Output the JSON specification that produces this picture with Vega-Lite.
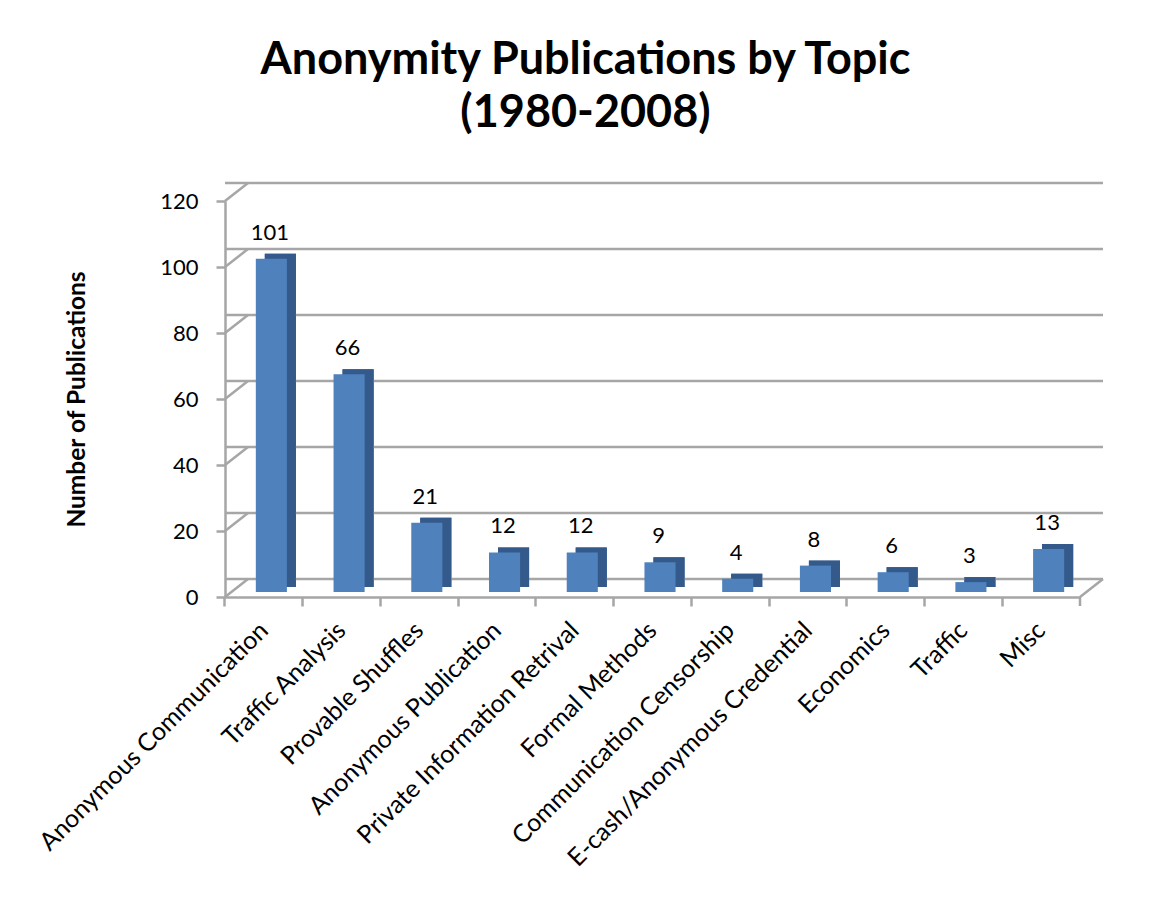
{
  "$schema": "https://vega.github.io/schema/vega-lite/v6.json",
  "autosize": {"type": "none"},
  "padding": {"left": 225, "top": 201, "right": 74, "bottom": 312},
  "width": 855,
  "height": 396,
  "background": "white",
  "config": {"view": {"stroke": null}, "font": "Lato"},
  "title": {
    "text": ["Anonymity Publications by Topic", "(1980-2008)"],
    "font": "Lato", "fontSize": 45, "fontWeight": "bold", "color": "black",
    "anchor": "middle", "dx": -67, "lineHeight": 53, "offset": 46
  },
  "datasets": {
    "pubs": [
      {"topic": "Anonymous Communication", "count": 101},
      {"topic": "Traffic Analysis", "count": 66},
      {"topic": "Provable Shuffles", "count": 21},
      {"topic": "Anonymous Publication", "count": 12},
      {"topic": "Private Information Retrival", "count": 12},
      {"topic": "Formal Methods", "count": 9},
      {"topic": "Communication Censorship", "count": 4},
      {"topic": "E-cash/Anonymous Credential", "count": 8},
      {"topic": "Economics", "count": 6},
      {"topic": "Traffic", "count": 3},
      {"topic": "Misc", "count": 13}
    ],
    "ticks": [{"v": 0}, {"v": 20}, {"v": 40}, {"v": 60}, {"v": 80}, {"v": 100}, {"v": 120}]
  },
  "layer": [
    {
      "data": {"name": "pubs"},
      "mark": {"type": "bar", "color": "#345a8c", "width": {"band": 0.4}, "xOffset": 16.5, "yOffset": -10},
      "encoding": {
        "x": {"field": "topic", "type": "nominal", "sort": null,
          "scale": {"paddingInner": 0, "paddingOuter": 0,
            "domain": ["Anonymous Communication", "Traffic Analysis", "Provable Shuffles", "Anonymous Publication", "Private Information Retrival", "Formal Methods", "Communication Censorship", "E-cash/Anonymous Credential", "Economics", "Traffic", "Misc"]},
          "axis": {"title": null, "labelAngle": -45, "labelAlign": "right", "labelBaseline": "middle",
            "labelFont": "Lato", "labelFontSize": 25, "labelColor": "black", "labelPadding": 20,
            "domainColor": "#a6a6a6", "domainWidth": 2.5, "tickColor": "#a6a6a6", "tickWidth": 2.5,
            "tickSize": 9, "bandPosition": 0, "labelLimit": 400}},
        "y": {"field": "count", "type": "quantitative", "scale": {"domain": [0, 120]},
          "axis": {"values": [0, 20, 40, 60, 80, 100, 120], "grid": false, "domainColor": "#a6a6a6", "domainWidth": 2.5,
            "tickColor": "#a6a6a6", "tickWidth": 2.5, "tickSize": 9, "labelFont": "Lato", "labelFontSize": 22,
            "labelColor": "black", "labelPadding": 18, "title": "Number of Publications", "titleFont": "Lato",
            "titleFontSize": 24.5, "titleFontWeight": "bold", "titleColor": "black", "titlePadding": 70}}
      }
    },
    {
      "data": {"name": "ticks"},
      "mark": {"type": "rule", "color": "#a6a6a6", "strokeWidth": 2.5, "xOffset": 23, "yOffset": -18},
      "encoding": {
        "y": {"field": "v", "type": "quantitative"}
      }
    },
    {
      "data": {"name": "ticks"},
      "mark": {"type": "rule", "color": "#a6a6a6", "strokeWidth": 2.5, "x2Offset": 23, "y2Offset": -18},
      "encoding": {
        "x": {"datum": "Anonymous Communication", "type": "nominal", "bandPosition": 0},
        "x2": {"datum": "Anonymous Communication", "bandPosition": 0},
        "y": {"field": "v", "type": "quantitative"},
        "y2": {"field": "v"}
      }
    },
    {
      "data": {"values": [{"v": 0}]},
      "mark": {"type": "rule", "color": "#a6a6a6", "strokeWidth": 2.5, "x2Offset": 23, "y2Offset": -18},
      "encoding": {
        "x": {"datum": "Misc", "type": "nominal", "bandPosition": 1},
        "x2": {"datum": "Misc", "bandPosition": 1},
        "y": {"field": "v", "type": "quantitative"},
        "y2": {"field": "v"}
      }
    },
    {
      "data": {"values": [{"v": 0}]},
      "mark": {"type": "rule", "color": "#a6a6a6", "strokeWidth": 2.5, "y2Offset": 9},
      "encoding": {
        "x": {"datum": "Misc", "type": "nominal", "bandPosition": 1},
        "y": {"field": "v", "type": "quantitative"},
        "y2": {"field": "v"}
      }
    },
    {
      "data": {"name": "pubs"},
      "mark": {"type": "bar", "color": "#345a8c", "width": {"band": 0.4}, "xOffset": 16.5, "yOffset": -10},
      "encoding": {
        "x": {"field": "topic", "type": "nominal", "sort": null},
        "y": {"field": "count", "type": "quantitative"}
      }
    },
    {
      "data": {"name": "pubs"},
      "mark": {"type": "bar", "color": "#4f81bd", "width": {"band": 0.4}, "xOffset": 7.5, "yOffset": -5},
      "encoding": {
        "x": {"field": "topic", "type": "nominal", "sort": null},
        "y": {"field": "count", "type": "quantitative"}
      }
    },
    {
      "data": {"name": "pubs"},
      "mark": {"type": "text", "font": "Lato", "fontSize": 22, "color": "black", "baseline": "alphabetic", "dx": 6, "dy": -24},
      "encoding": {
        "x": {"field": "topic", "type": "nominal", "sort": null},
        "y": {"field": "count", "type": "quantitative"},
        "text": {"field": "count", "type": "quantitative"}
      }
    }
  ]
}
